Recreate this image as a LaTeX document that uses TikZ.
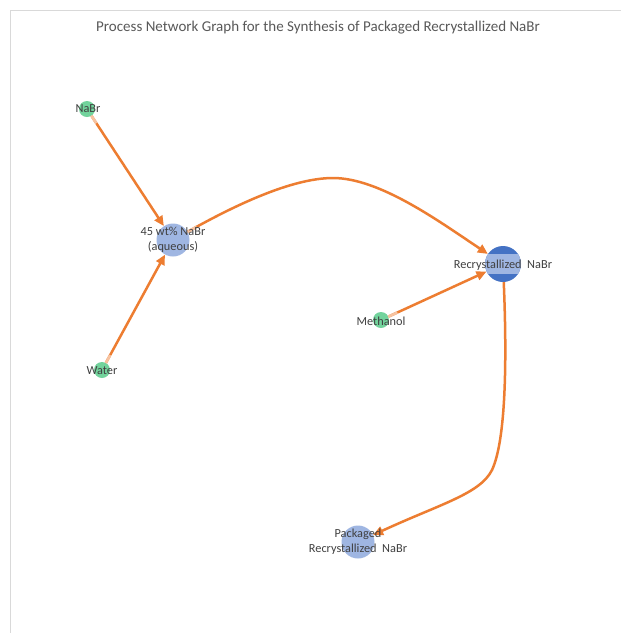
\documentclass[tikz,border=0pt]{standalone}
\usepackage{fontspec}
\setmainfont{Carlito}
\usetikzlibrary{arrows.meta,calc}

\definecolor{flow}{HTML}{ED7D31}
\definecolor{flowfade}{HTML}{F7C3A0}
\definecolor{feed}{HTML}{72D39C}
\definecolor{mix}{HTML}{9FB6E2}
\definecolor{solid}{HTML}{4472C4}
\definecolor{labeltext}{HTML}{404040}
\definecolor{titletext}{HTML}{595959}
\definecolor{frame}{HTML}{D9D9D9}

\tikzset{
  feednode/.style={circle, fill=feed, draw=none, inner sep=0pt, minimum size=16pt},
  mixnode/.style={circle, fill=mix, draw=none, inner sep=0pt, minimum size=33pt},
  solidnode/.style={circle, fill=solid, draw=none, inner sep=0pt, minimum size=36pt},
  nodelabel/.style={text=labeltext, font=\fontsize{12.3}{15}\selectfont, align=center, inner sep=0pt},
  flowfaded/.style={draw=flowfade, line width=2.6pt},
  flowline/.style={draw=flow, line width=2.5pt,
    -{Triangle[length=10pt,width=9pt]}},
}

\begin{document}
\begin{tikzpicture}[x=1pt, y=-1pt]
  \useasboundingbox (0,0) rectangle (621,633);
  \fill[white] (0,0) rectangle (621,633);

  % chart frame
  \draw[frame, line width=1pt] (10,633) -- (10,10) -- (621,10);

  % title
  \node[text=titletext, font=\fontsize{15}{18}\selectfont] (title) at (318,28)
    {Process Network Graph for the Synthesis of Packaged Recrystallized NaBr};

  % vertices
  \node[feednode]  (nabr)  at (87,109)  {};
  \node[mixnode]   (aq)    at (173,240) {};
  \node[feednode]  (water) at (102,370) {};
  \node[solidnode] (rc)    at (503,264) {};
  \node[feednode]  (meoh)  at (381,320) {};
  \node[mixnode]   (pk)    at (358,542) {};

  % light band behind the recrystallized label
  \begin{scope}
    \clip (503,264) circle (18);
    \fill[mix] (480,254) rectangle (526,274);
  \end{scope}

  % edges
  \draw[flowline] (nabr) -- (aq);
  \draw[flowline] (water) -- (aq);
  \draw[flowline] (meoh) -- (rc);
  \draw[flowline] (aq) .. controls (230,208) and (290,178) .. (333,178)
                       .. controls (380,178) and (440,222) .. (rc);
  \draw[flowline] (rc) .. controls (507,360) and (506,440) .. (492,470)
                       .. controls (480,494) and (440,504) .. (pk);

  % faded starts of the edges
  \draw[flowfaded] ($(nabr)!8pt!(aq)$)   -- ($(nabr)!17pt!(aq)$);
  \draw[flowfaded] ($(water)!8pt!(aq)$)  -- ($(water)!17pt!(aq)$);
  \draw[flowfaded] ($(meoh)!8pt!(rc)$)   -- ($(meoh)!18pt!(rc)$);
  \draw[flowfaded] ($(aq)!16.5pt!(230,208)$) -- ($(aq)!27pt!(230,208)$);

  % vertex labels
  \node[nodelabel] (lnabr)  at (88,109)  {NaBr};
  \node[nodelabel] (laq)    at (173,240) {45 wt\% NaBr\\(aqueous)};
  \node[nodelabel] (lwater) at (102,371) {Water};
  \node[nodelabel] (lrc)    at (503,265) {Recrystallized\ \ NaBr};
  \node[nodelabel] (lmeoh)  at (381,321) {Methanol};
  \node[nodelabel] (lpk)    at (358,542) {Packaged\\Recrystallized\ \ NaBr};
\end{tikzpicture}
\end{document}
